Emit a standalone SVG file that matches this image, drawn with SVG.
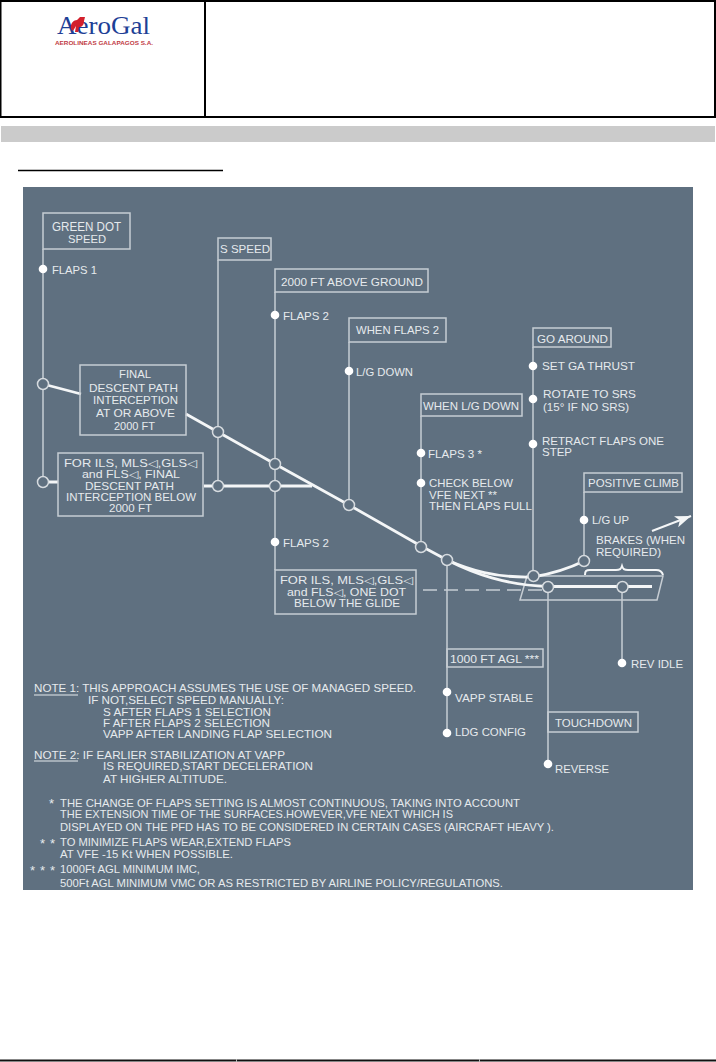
<svg xmlns="http://www.w3.org/2000/svg" width="716" height="1062" viewBox="0 0 716 1062">
<style>
text{font-family:"Liberation Sans","DejaVu Sans",sans-serif;fill:#e6eaed;font-size:11.400px}
.lg{font-size:12px}
.sm{font-size:11px}
.box{fill:none;stroke:#c6cdd3;stroke-width:1.5}
.v{fill:none;stroke:#c6cdd3;stroke-width:1.5}
.path{fill:none;stroke:#f4f6f7;stroke-width:2.8}
.ring{fill:#5f7080;stroke:#d6dbdf;stroke-width:1.5}
.dot{fill:#fff}
.ln{stroke:#000;stroke-width:2;fill:none}
.st{font-size:13px}
</style>
<defs>
<marker id="arrow" markerUnits="userSpaceOnUse" markerWidth="18" markerHeight="14" refX="16" refY="6" orient="auto"><path d="M0 0L16 6L0 12L4 6Z" fill="#f4f6f7"/></marker>
</defs>
<rect width="716" height="1062" fill="#fff"/>
<g id="header">
<rect x="0.5" y="1" width="714.5" height="116" class="ln"/>
<path d="M205 1V117" class="ln"/>
<rect x="1" y="126" width="714" height="16" fill="#cbcbcb"/>
<path d="M18 170.500H223" stroke="#000" stroke-width="1.500"/>
<path d="M0 1060.500H716" stroke="#111" stroke-width="2"/>
<path d="M236.500 1059V1062M479.500 1059V1062" stroke="#bbb" stroke-width="1"/>
</g>
<g id="logo">
<text x="57" y="34" style="font-family:'Liberation Serif',serif;font-size:25px;fill:#1e3f96" textLength="93" lengthAdjust="spacingAndGlyphs">AeroGal</text>
<path d="M71 29C70 23 74 20 77 20L80 17L85 17L84 21C84 25 82 27 79 27L78 32L75 32L76 26L73 31Z" fill="#d3202c"/>
<text x="55" y="44.500" style="font-size:6px;font-weight:bold;fill:#bf3a44" textLength="98" lengthAdjust="spacingAndGlyphs">AEROLINEAS GALAPAGOS S.A.</text>
</g>
<rect id="panel" x="23" y="187" width="670" height="703" fill="#5f7080"/>
<g id="connectors">
<path class="v" d="M43 249V482M218 260V486M275 292V570M349 342V505M421 416V547M447 560V733M533 347V576M584 492V561M548 587V764M622 587V663"/>
<path class="v" d="M527 576H663L657 600H520Z"/>
<path d="M423 590H545" fill="none" stroke="#c6cdd3" stroke-width="1.500" stroke-dasharray="14 7"/>
<path class="path" d="M43 384L81 394M186 414L218 432L275 464L349 505L421 546L447 560C470 570 495 578 533 577C550 574 568 569 584 561"/>
<path class="path" d="M447 560C475 574 505 585 548 586.500H652"/>
<path class="path" d="M43 482H58M204 486H312"/>
<path d="M585 575C585 571 586 570 590 570H616C620 570 621 569 622 566C623 569 624 570 628 570H656C660 570 662 571 663 575" fill="none" stroke="#f4f6f7" stroke-width="2"/>
<path d="M652 531L691 516" fill="none" stroke="#f4f6f7" stroke-width="2" marker-end="url(#arrow)"/>
<circle class="ring" cx="43" cy="384" r="5.500"/><circle class="ring" cx="43" cy="482" r="5.500"/>
<circle class="ring" cx="218" cy="432" r="5.500"/><circle class="ring" cx="218" cy="486" r="5.500"/>
<circle class="ring" cx="275" cy="464" r="5.500"/><circle class="ring" cx="275" cy="486" r="5.500"/>
<circle class="ring" cx="349" cy="505" r="5.500"/><circle class="ring" cx="421" cy="547" r="5.500"/>
<circle class="ring" cx="447" cy="560" r="5.500"/><circle class="ring" cx="533.500" cy="576" r="5.500"/>
<circle class="ring" cx="584" cy="561" r="5.500"/><circle class="ring" cx="548" cy="587" r="5.500"/>
<circle class="ring" cx="622.500" cy="587" r="5.500"/>
</g>
<g id="green-dot">
<rect class="box" x="43" y="213" width="87" height="36"/>
<text class="lg" x="52" y="230.500" textLength="69" lengthAdjust="spacingAndGlyphs">GREEN DOT</text>
<text class="sm" x="68" y="242.500" textLength="38" lengthAdjust="spacingAndGlyphs">SPEED</text>
<circle class="dot" cx="43" cy="269" r="4.300"/>
<text x="52" y="274" textLength="45" lengthAdjust="spacingAndGlyphs">FLAPS 1</text>
</g>
<g id="s-speed">
<rect class="box" x="218" y="238" width="53" height="22"/>
<text x="220" y="253" textLength="50" lengthAdjust="spacingAndGlyphs">S SPEED</text>
</g>
<g id="above-ground">
<rect class="box" x="275" y="269" width="153" height="23"/>
<text x="281" y="286" textLength="142" lengthAdjust="spacingAndGlyphs">2000 FT ABOVE GROUND</text>
<circle class="dot" cx="275" cy="315" r="4.300"/>
<text x="283" y="320" textLength="46" lengthAdjust="spacingAndGlyphs">FLAPS 2</text>
</g>
<g id="final-above">
<rect class="box" x="80" y="365" width="106" height="70"/>
<text class="sm" x="119" y="378" textLength="32" lengthAdjust="spacingAndGlyphs">FINAL</text>
<text class="sm" x="89" y="392" textLength="89" lengthAdjust="spacingAndGlyphs">DESCENT PATH</text>
<text class="sm" x="93" y="404" textLength="85" lengthAdjust="spacingAndGlyphs">INTERCEPTION</text>
<text class="sm" x="96" y="417" textLength="79" lengthAdjust="spacingAndGlyphs">AT OR ABOVE</text>
<text class="sm" x="114" y="430" textLength="41" lengthAdjust="spacingAndGlyphs">2000 FT</text>
</g>
<g id="final-below">
<rect class="box" x="58" y="453" width="145" height="63"/>
<text class="sm" x="64" y="467" textLength="133" lengthAdjust="spacingAndGlyphs">FOR ILS, MLS◁,GLS◁</text>
<text class="sm" x="82" y="478" textLength="98" lengthAdjust="spacingAndGlyphs">and FLS◁, FINAL</text>
<text class="sm" x="85" y="490" textLength="89" lengthAdjust="spacingAndGlyphs">DESCENT PATH</text>
<text class="sm" x="66" y="501" textLength="130" lengthAdjust="spacingAndGlyphs">INTERCEPTION BELOW</text>
<text class="sm" x="109" y="512" textLength="43" lengthAdjust="spacingAndGlyphs">2000 FT</text>
</g>
<g id="flaps-2-lower">
<circle class="dot" cx="275" cy="542" r="4.300"/>
<text x="283" y="547" textLength="46" lengthAdjust="spacingAndGlyphs">FLAPS 2</text>
</g>
<g id="one-dot">
<rect class="box" x="275" y="570" width="141" height="44"/>
<text class="sm" x="280" y="584" textLength="133" lengthAdjust="spacingAndGlyphs">FOR ILS, MLS◁,GLS◁</text>
<text class="sm" x="287" y="596" textLength="119" lengthAdjust="spacingAndGlyphs">and FLS◁, ONE DOT</text>
<text class="sm" x="294" y="607" textLength="106" lengthAdjust="spacingAndGlyphs">BELOW THE GLIDE</text>
</g>
<g id="when-flaps-2">
<rect class="box" x="349" y="318" width="97" height="24"/>
<text x="356" y="334" textLength="83" lengthAdjust="spacingAndGlyphs">WHEN FLAPS 2</text>
<circle class="dot" cx="349" cy="371" r="4.300"/>
<text x="356" y="376" textLength="57" lengthAdjust="spacingAndGlyphs">L/G DOWN</text>
</g>
<g id="when-lg-down">
<rect class="box" x="421" y="394" width="101" height="22"/>
<text x="423" y="410" textLength="96" lengthAdjust="spacingAndGlyphs">WHEN L/G DOWN</text>
<circle class="dot" cx="421" cy="453" r="4.300"/>
<text x="428" y="458" textLength="54" lengthAdjust="spacingAndGlyphs">FLAPS 3 *</text>
<circle class="dot" cx="421" cy="483" r="4.300"/>
<text class="sm" x="429" y="487" textLength="84" lengthAdjust="spacingAndGlyphs">CHECK BELOW</text>
<text class="sm" x="429" y="498.500" textLength="68" lengthAdjust="spacingAndGlyphs">VFE NEXT **</text>
<text class="sm" x="429" y="510" textLength="103" lengthAdjust="spacingAndGlyphs">THEN FLAPS FULL</text>
</g>
<g id="go-around">
<rect class="box" x="533" y="328" width="78" height="19"/>
<text x="537" y="343" textLength="71" lengthAdjust="spacingAndGlyphs">GO AROUND</text>
<circle class="dot" cx="533" cy="366" r="4.300"/>
<text x="542" y="370" textLength="93" lengthAdjust="spacingAndGlyphs">SET GA THRUST</text>
<circle class="dot" cx="533" cy="399" r="4.300"/>
<text class="sm" x="543" y="398" textLength="93" lengthAdjust="spacingAndGlyphs">ROTATE TO SRS</text>
<text class="sm" x="543" y="411" textLength="86" lengthAdjust="spacingAndGlyphs">(15° IF NO SRS)</text>
<circle class="dot" cx="533" cy="444" r="4.300"/>
<text class="sm" x="542" y="445" textLength="122" lengthAdjust="spacingAndGlyphs">RETRACT FLAPS ONE</text>
<text class="sm" x="542" y="456" textLength="30" lengthAdjust="spacingAndGlyphs">STEP</text>
</g>
<g id="positive-climb">
<rect class="box" x="584" y="473" width="98" height="19"/>
<text x="588" y="487" textLength="91" lengthAdjust="spacingAndGlyphs">POSITIVE CLIMB</text>
<circle class="dot" cx="584" cy="520" r="4.300"/>
<text x="592" y="524" textLength="37" lengthAdjust="spacingAndGlyphs">L/G UP</text>
</g>
<g id="brakes">
<text class="sm" x="596" y="544" textLength="89" lengthAdjust="spacingAndGlyphs">BRAKES (WHEN</text>
<text class="sm" x="596" y="556" textLength="65" lengthAdjust="spacingAndGlyphs">REQUIRED)</text>
</g>
<g id="agl-1000">
<rect class="box" x="447" y="649" width="96" height="18"/>
<text x="450" y="663" textLength="89" lengthAdjust="spacingAndGlyphs">1000 FT AGL ***</text>
<circle class="dot" cx="447" cy="692" r="4.300"/>
<text x="455" y="702" textLength="78" lengthAdjust="spacingAndGlyphs">VAPP STABLE</text>
<circle class="dot" cx="447" cy="733" r="4.300"/>
<text x="455" y="736" textLength="71" lengthAdjust="spacingAndGlyphs">LDG CONFIG</text>
</g>
<g id="touchdown">
<rect class="box" x="548" y="712" width="90" height="20"/>
<text x="555" y="727" textLength="77" lengthAdjust="spacingAndGlyphs">TOUCHDOWN</text>
<circle class="dot" cx="548" cy="764" r="4.300"/>
<text x="555" y="773" textLength="54" lengthAdjust="spacingAndGlyphs">REVERSE</text>
</g>
<g id="rev-idle">
<circle class="dot" cx="622" cy="663" r="4.300"/>
<text x="631" y="668" textLength="52" lengthAdjust="spacingAndGlyphs">REV IDLE</text>
</g>
<g id="notes">
<text class="sm" x="34" y="692" textLength="382" lengthAdjust="spacingAndGlyphs">NOTE 1: THIS APPROACH ASSUMES THE USE OF MANAGED SPEED.</text>
<path d="M34 695H78M34 761H78" stroke="#e6eaed" stroke-width="1"/>
<text class="sm" x="88" y="704" textLength="196" lengthAdjust="spacingAndGlyphs">IF NOT,SELECT SPEED MANUALLY:</text>
<text class="sm" x="103" y="716" textLength="168" lengthAdjust="spacingAndGlyphs">S AFTER FLAPS 1 SELECTION</text>
<text class="sm" x="103" y="727" textLength="167" lengthAdjust="spacingAndGlyphs">F AFTER FLAPS 2 SELECTION</text>
<text class="sm" x="103" y="738" textLength="229" lengthAdjust="spacingAndGlyphs">VAPP AFTER LANDING FLAP SELECTION</text>
<text class="sm" x="34" y="759" textLength="251" lengthAdjust="spacingAndGlyphs">NOTE 2: IF EARLIER STABILIZATION AT VAPP</text>
<text class="sm" x="103" y="770" textLength="210" lengthAdjust="spacingAndGlyphs">IS REQUIRED,START DECELERATION</text>
<text class="sm" x="103" y="783" textLength="124" lengthAdjust="spacingAndGlyphs">AT HIGHER ALTITUDE.</text>
<text class="st" x="49" y="808" textLength="6">*</text>
<text class="sm" x="60" y="807" textLength="460" lengthAdjust="spacingAndGlyphs">THE CHANGE OF FLAPS SETTING IS ALMOST CONTINUOUS, TAKING INTO ACCOUNT</text>
<text class="sm" x="60" y="818" textLength="393" lengthAdjust="spacingAndGlyphs">THE EXTENSION TIME OF THE SURFACES.HOWEVER,VFE NEXT WHICH IS</text>
<text class="sm" x="60" y="831" textLength="494" lengthAdjust="spacingAndGlyphs">DISPLAYED ON THE PFD HAS TO BE CONSIDERED IN CERTAIN CASES (AIRCRAFT HEAVY ).</text>
<text class="st" x="40" y="848" textLength="15" lengthAdjust="spacing">* *</text>
<text class="sm" x="60" y="846" textLength="231" lengthAdjust="spacingAndGlyphs">TO MINIMIZE FLAPS WEAR,EXTEND FLAPS</text>
<text class="sm" x="60" y="858" textLength="173" lengthAdjust="spacingAndGlyphs">AT VFE -15 Kt WHEN POSSIBLE.</text>
<text class="st" x="30" y="875" textLength="25" lengthAdjust="spacing">* * *</text>
<text class="sm" x="60" y="873" textLength="140" lengthAdjust="spacingAndGlyphs">1000Ft AGL MINIMUM IMC,</text>
<text class="sm" x="60" y="887" textLength="443" lengthAdjust="spacingAndGlyphs">500Ft AGL MINIMUM VMC OR AS RESTRICTED BY AIRLINE POLICY/REGULATIONS.</text>
</g>
</svg>
